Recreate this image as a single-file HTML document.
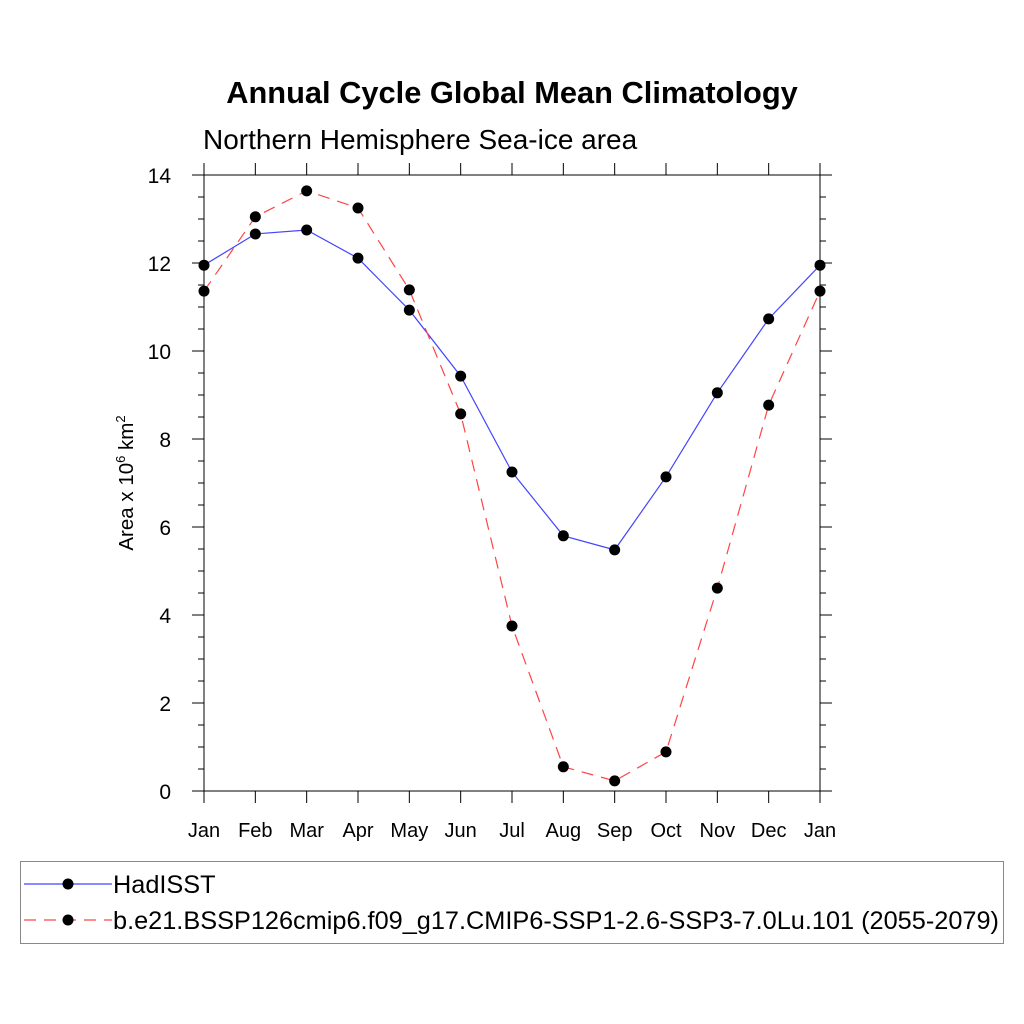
<!DOCTYPE html>
<html><head><meta charset="utf-8"><style>
body{margin:0;background:#fff}
svg{display:block;font-family:"Liberation Sans",sans-serif}
</style></head><body>
<svg id="chart" width="1024" height="1024" viewBox="0 0 1024 1024">
<rect width="1024" height="1024" fill="#fff"/>
<text x="512" y="103" text-anchor="middle" font-size="30.8" font-weight="bold">Annual Cycle Global Mean Climatology</text>
<text x="203" y="149" font-size="28">Northern Hemisphere Sea-ice area</text>
<text transform="translate(133,483) rotate(-90)" text-anchor="middle" font-size="20.5">Area x 10<tspan dy="-8" font-size="13">6</tspan><tspan dy="8"> km</tspan><tspan dy="-8" font-size="13">2</tspan></text>
<g id="axes"></g>
<g id="series"></g>
<g>
<rect x="20.5" y="861.5" width="983" height="82" fill="none" stroke="#888" stroke-width="1"/>
<line x1="24" y1="884" x2="112" y2="884" stroke="#44f" stroke-width="1.2"/>
<circle cx="68" cy="884" r="5.5" fill="#000"/>
<text x="113" y="893" font-size="25.3">HadISST</text>
<line x1="24" y1="920" x2="112" y2="920" stroke="#f44" stroke-width="1.2" stroke-dasharray="12,8"/>
<circle cx="68" cy="920" r="5.5" fill="#000"/>
<text x="113" y="929" font-size="25.3">b.e21.BSSP126cmip6.f09_g17.CMIP6-SSP1-2.6-SSP3-7.0Lu.101 (2055-2079)</text>
</g>
</svg>
<script>
const months=["Jan","Feb","Mar","Apr","May","Jun","Jul","Aug","Sep","Oct","Nov","Dec","Jan"];
const hadisst=[11.95,12.66,12.75,12.11,10.93,9.43,7.25,5.80,5.48,7.14,9.05,10.73,11.95];
const model=[11.36,13.05,13.64,13.25,11.39,8.57,3.75,0.55,0.23,0.89,4.61,8.77,11.36];
const yTicks=[0,2,4,6,8,10,12,14];
const NS="http://www.w3.org/2000/svg";
const L=204,R=820,T=175,B=791,ymax=14;
const xs=i=>L+i*(R-L)/12, ys=v=>B-v*(B-T)/ymax;
function mk(tag,attrs,parent){const e=document.createElementNS(NS,tag);for(const k in attrs)e.setAttribute(k,attrs[k]);parent.appendChild(e);return e;}
const ax=document.getElementById('axes');
const frame=mk('rect',{x:L,y:T,width:R-L,height:B-T,fill:'none',stroke:'#000','stroke-width':1},ax);


for(let v=0;v<=ymax+0.001;v+=0.5){
  const maj=Math.abs(v%2)<1e-6,y=ys(v),len=maj?12:6;
  mk('line',{x1:L-len,y1:y,x2:L,y2:y,stroke:'#000','stroke-width':1},ax);
  mk('line',{x1:R,y1:y,x2:R+len,y2:y,stroke:'#000','stroke-width':1},ax);
}
yTicks.forEach(v=>{const t=mk('text',{x:L-33,y:ys(v)+8,'text-anchor':'end','font-size':21},ax);t.textContent=v;

});
months.forEach((m,i)=>{const x=xs(i);
  mk('line',{x1:x,y1:B,x2:x,y2:B+12,stroke:'#000','stroke-width':1},ax);
  mk('line',{x1:x,y1:T-12,x2:x,y2:T,stroke:'#000','stroke-width':1},ax);
  const t=mk('text',{x:x,y:B+46,'text-anchor':'middle','font-size':20},ax);t.textContent=m;
  
  });
const sg=document.getElementById('series');
function drawSeries(vals,color,dash,name){
  const pl=mk('polyline',{points:vals.map((v,i)=>xs(i)+','+ys(v)).join(' '),fill:'none',stroke:color,'stroke-width':1.2,'stroke-dasharray':dash},sg);
  
  
  vals.forEach((v,i)=>{const c=mk('circle',{cx:xs(i),cy:ys(v),r:5.5,fill:'#000'},sg);
    
    });
}
drawSeries(hadisst,'#44f','none','hadisst');
drawSeries(model,'#f44','12,8','model');
</script>
</body></html>
